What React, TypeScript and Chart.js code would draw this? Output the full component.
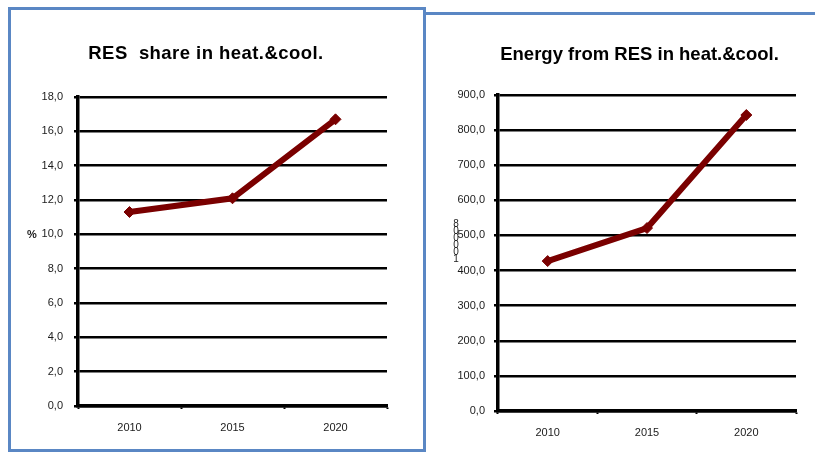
import React, { useEffect, useRef } from 'react';
import { Chart, registerables } from 'chart.js';

Chart.register(...registerables);

const categories = ['2010', '2015', '2020'];
const shareValues = [11.3, 12.1, 16.7];
const energyValues = [427, 521, 843];
const shareAxis = [0, 18, 2];
const energyAxis = [0, 900, 100];
const leftTitle = 'RES  share in heat.&cool.';
const rightTitle = 'Energy from RES in heat.&cool.';
const leftUnit = '%';
const rightUnit = ['8', '0', '0', '0', '0', '1'];

const FONT = '"Liberation Sans", Arial, Helvetica, sans-serif';
const LINE = '#7a0000';
const BLUE = '#5a87c4';

type PanelProps = {
  values: number[];
  axis: number[];
  width: number;
  height: number;
  padTop: number;
  padR: number;
  yWidth: number;
  xHeight: number;
  labelPad: number;
};

function fmt(v: number) {
  return v.toFixed(1).replace('.', ',');
}

function LinePanel(p: PanelProps) {
  const ref = useRef<HTMLCanvasElement | null>(null);
  useEffect(() => {
    if (!ref.current) return;
    const chart = new Chart(ref.current, {
      type: 'line',
      data: {
        labels: categories,
        datasets: [
          {
            data: p.values,
            borderColor: LINE,
            backgroundColor: LINE,
            borderWidth: 6,
            pointStyle: 'rectRot',
            pointRadius: 5.5,
            pointBorderWidth: 1,
            pointBackgroundColor: LINE,
            pointBorderColor: LINE,
            tension: 0,
            fill: false,
          },
        ],
      },
      options: {
        responsive: false,
        animation: false,
        devicePixelRatio: 1,
        layout: { padding: { left: 0, right: p.padR, top: p.padTop, bottom: 0 } },
        plugins: {
          legend: { display: false },
          tooltip: { enabled: false },
          title: { display: false },
        },
        scales: {
          x: {
            type: 'category',
            offset: true,
            grid: {
              display: true,
              offset: true,
              drawOnChartArea: false,
              drawTicks: true,
              tickLength: 3,
              tickColor: '#000',
              tickWidth: 2,
              color: '#000',
            },
            border: { display: true, color: '#000', width: 3.5 },
            ticks: {
              color: '#1a1a1a',
              font: { family: FONT, size: 11 },
              padding: 12,
              maxRotation: 0,
            },
            afterFit: (s: any) => {
              s.height = p.xHeight;
            },
          },
          y: {
            min: p.axis[0],
            max: p.axis[1],
            grid: {
              color: '#000',
              lineWidth: 2.5,
              drawTicks: true,
              tickLength: 4,
              tickColor: '#000',
            },
            border: { display: true, color: '#000', width: 3.5 },
            ticks: {
              stepSize: p.axis[2],
              color: '#1a1a1a',
              font: { family: FONT, size: 11 },
              padding: p.labelPad,
              callback: (v: any) => fmt(Number(v)),
            },
            afterFit: (s: any) => {
              s.width = p.yWidth;
            },
          },
        },
      },
    } as any);
    return () => chart.destroy();
  }, []);
  return (
    <canvas
      ref={ref}
      width={p.width}
      height={p.height}
      style={{ width: p.width, height: p.height, display: 'block' }}
    />
  );
}

function Title({ text, cx, top, spacing }: { text: string; cx: number; top: number; spacing: number }) {
  return (
    <div
      style={{
        position: 'absolute',
        left: cx - 200,
        top,
        width: 400,
        textAlign: 'center',
        fontSize: 18.5,
        lineHeight: '22px',
        fontWeight: 'bold',
        color: '#000',
        whiteSpace: 'pre',
        letterSpacing: spacing,
      }}
    >
      {text}
    </div>
  );
}

export default function App() {
  return (
    <div
      style={{
        position: 'fixed',
        left: 0,
        top: 0,
        width: 815,
        height: 452,
        background: '#fff',
        overflow: 'hidden',
        fontFamily: FONT,
      }}
    >
      {/* left frame */}
      <div
        style={{
          position: 'absolute',
          left: 8,
          top: 7,
          width: 418,
          height: 445,
          boxSizing: 'border-box',
          border: `3px solid ${BLUE}`,
        }}
      />
      {/* right frame top line */}
      <div
        style={{
          position: 'absolute',
          left: 426,
          top: 12,
          width: 400,
          height: 3,
          background: BLUE,
        }}
      />
      <div style={{ position: 'absolute', left: 11, top: 10 }}>
        <LinePanel
          values={shareValues}
          axis={shareAxis}
          width={412}
          height={438}
          padTop={87}
          padR={36}
          yWidth={67}
          xHeight={42}
          labelPad={11}
        />
      </div>
      <div style={{ position: 'absolute', left: 427, top: 15 }}>
        <LinePanel
          values={energyValues}
          axis={energyAxis}
          width={388}
          height={437}
          padTop={80}
          padR={19}
          yWidth={71}
          xHeight={41}
          labelPad={9}
        />
      </div>
      <Title text={leftTitle} cx={206} top={42} spacing={0.45} />
      <Title text={rightTitle} cx={639.5} top={43} spacing={0} />
      <div
        style={{
          position: 'absolute',
          left: 27,
          top: 228,
          fontSize: 11,
          lineHeight: '13px',
          color: '#1a1a1a',
          fontWeight: 'bold',
        }}
      >
        {leftUnit}
      </div>
      <div
        style={{
          position: 'absolute',
          left: 452,
          top: 220,
          fontSize: 10,
          lineHeight: '7px',
          color: '#1a1a1a',
          textAlign: 'center',
          width: 8,
        }}
      >
        {rightUnit.map((c, i) => (
          <div key={i}>{c}</div>
        ))}
      </div>
    </div>
  );
}
